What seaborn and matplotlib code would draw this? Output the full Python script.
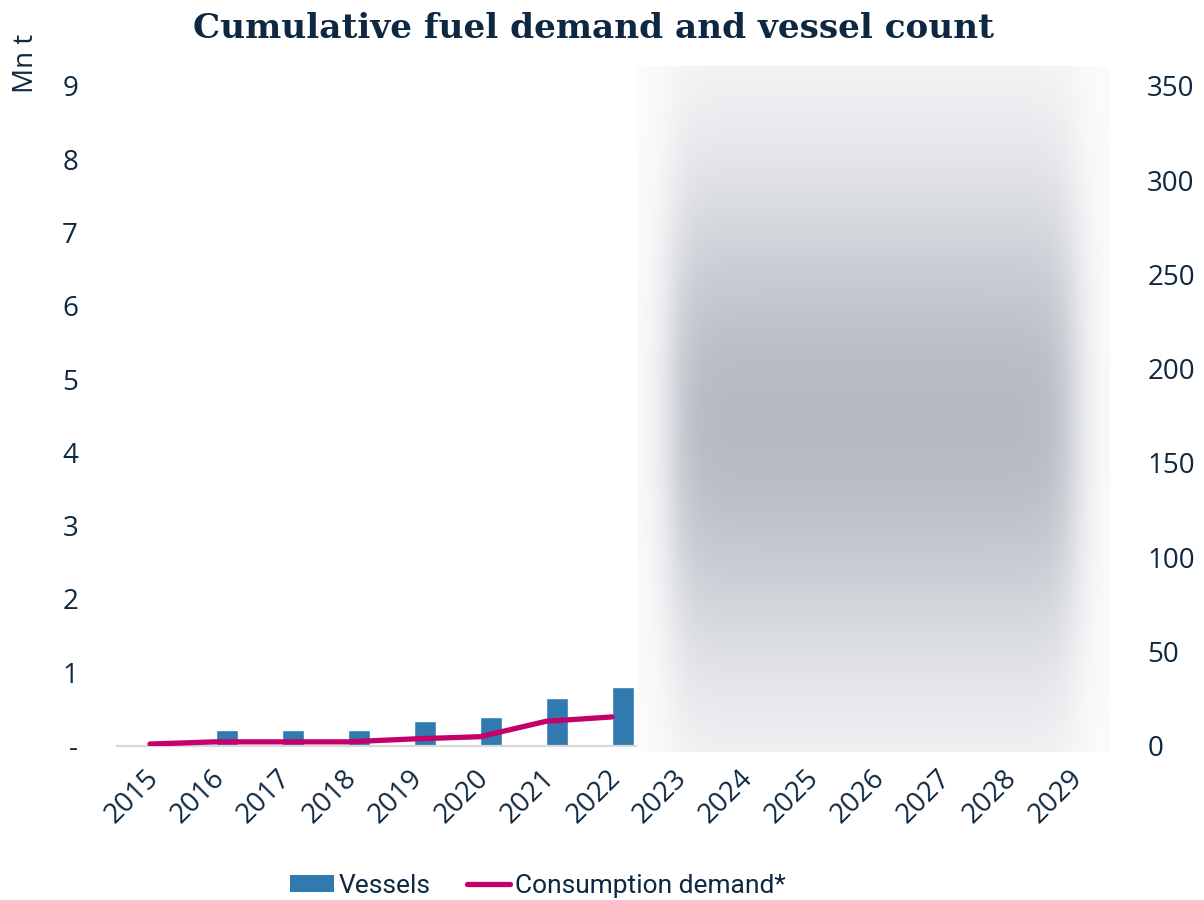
import numpy as np
import pandas as pd
import matplotlib
matplotlib.use("Agg")
import matplotlib.pyplot as plt
import matplotlib.transforms as mtransforms
from matplotlib.patches import Patch
from matplotlib.lines import Line2D
import seaborn as sns

# ---- data ----
years = [str(y) for y in range(2015, 2030)]
vessels = [0, 8, 8, 8, 13, 15, 25, 31, np.nan, np.nan, np.nan, np.nan, np.nan, np.nan, np.nan]
demand = [0.02, 0.05, 0.05, 0.05, 0.09, 0.12, 0.33, 0.39, np.nan, np.nan, np.nan, np.nan, np.nan, np.nan, np.nan]
left_ticks = [0, 1, 2, 3, 4, 5, 6, 7, 8, 9]
left_labels = ["-", "1", "2", "3", "4", "5", "6", "7", "8", "9"]
right_ticks = [0, 50, 100, 150, 200, 250, 300, 350]

NAVY = "#0E2841"
BAR = "#317AB0"
LINE = "#C4006A"

sns.set_theme(style="white")
plt.rcParams["font.family"] = ["Open Sans", "DejaVu Sans"]

fig = plt.figure(figsize=(12.04, 9.0), dpi=100)
ax = fig.add_axes([117 / 1204, 1 - 745.5 / 900, 990 / 1204, (745.5 - 86) / 900])

# bars (vessels) on host axis, shown on the right side
df = pd.DataFrame({
    "year": years * 2,
    "series": ["_pad"] * len(years) + ["Vessels"] * len(years),
    "value": [np.nan] * len(years) + vessels,
})
sns.barplot(data=df, x="year", y="value", hue="series", hue_order=["_pad", "Vessels"],
            order=years, palette={"_pad": BAR, "Vessels": BAR}, width=0.667,
            dodge=True, legend=False, ax=ax, saturation=1, errorbar=None)
ax.set_ylim(0, 350)
ax.set_xlim(-0.5, len(years) - 0.5)
ax.set_ylabel("")
ax.set_xlabel("")

# line (consumption demand) on twin axis, shown on left
ax2 = ax.twinx()
dl = pd.DataFrame({"year": years, "demand": demand})
sns.pointplot(data=dl, x="year", y="demand", order=years, color=LINE, markers="",
              linestyles="-", errorbar=None, ax=ax2)
for ln in ax2.lines:
    ln.set_linewidth(3.8)
    ln.set_solid_capstyle("round")
    ln.set_solid_joinstyle("round")
ax2.set_ylim(0, 9)
ax2.set_xlim(-0.5, len(years) - 0.5)
ax2.set_ylabel("")
ax2.set_xlabel("")

# axis sides: vessels on right, Mn t on left
ax.yaxis.tick_right()
ax.yaxis.set_label_position("right")
ax.set_yticks(right_ticks)
ax.set_yticklabels([str(t) for t in right_ticks])
ax2.yaxis.tick_left()
ax2.yaxis.set_label_position("left")
ax2.set_yticks(left_ticks)
ax2.set_yticklabels(left_labels)

for a in (ax, ax2):
    for s in a.spines.values():
        s.set_visible(False)
    a.grid(False)
    a.set_facecolor("none")
ax.spines["bottom"].set_visible(True)
ax.spines["bottom"].set_color("#D9D9D9")
ax.spines["bottom"].set_linewidth(1.6)

ax.tick_params(axis="y", right=False, left=False, labelright=True, labelleft=False,
               labelsize=20, labelcolor=NAVY, pad=29, length=0)
ax2.tick_params(axis="y", right=False, left=False, labelleft=True, labelright=False,
                labelsize=20, labelcolor=NAVY, pad=28, length=0)
ax.tick_params(axis="x", bottom=False, labelsize=20, labelcolor=NAVY, pad=6)
ax2.tick_params(axis="x", bottom=False, labelbottom=False)
ax.set_xticks(range(len(years)))
ax.set_xticklabels(years, rotation=45, ha="right", rotation_mode="anchor")
off = mtransforms.ScaledTranslation(-5 / 100, -2 / 100, fig.dpi_scale_trans)
for lbl in ax.get_xticklabels():
    lbl.set_transform(lbl.get_transform() + off)

fig.text(0.022, 0.962, "Mn t", rotation=90, ha="center", va="top", fontsize=20, color=NAVY)
fig.text(0.493, 0.968, "Cumulative fuel demand and vessel count", ha="center", va="center",
         fontsize=24.7, fontweight="bold", color=NAVY, family=["DejaVu Serif"])

handles = [Patch(facecolor=BAR, edgecolor="none"),
           Line2D([0], [0], color=LINE, lw=3.8, solid_capstyle="round")]
fig.legend(handles, ["Vessels", "Consumption demand*"], loc="center", bbox_to_anchor=(0.447, 0.016),
           ncol=2, frameon=False, prop={"family": ["Roboto", "DejaVu Sans"], "size": 19},
           labelcolor=NAVY, handlelength=1.65, handleheight=0.62, handletextpad=0.2,
           columnspacing=1.35)

# blurred redaction overlay
x0, x1, y0, y1 = 637, 1110, 66, 752
xx = np.arange(x0, x1) + 0.5
yy = np.arange(y0, y1) + 0.5
sig = lambda z: 1 / (1 + np.exp(-z))
h = sig((xx - 672) / 11) * sig((1075 - xx) / 11)
v = np.exp(-((yy - 420) ** 2) / (2 * 180.0 ** 2))
a = 0.03 + 0.675 * v[:, None] * h[None, :]
c = np.array([150, 157, 170]) / 255.0
img = (1 - a[..., None]) * 1.0 + a[..., None] * c
oax = fig.add_axes([x0 / 1204, 1 - y1 / 900, (x1 - x0) / 1204, (y1 - y0) / 900], zorder=10)
oax.imshow(img, aspect="auto", interpolation="bilinear")
oax.axis("off")

fig.savefig("out.png", dpi=100)
